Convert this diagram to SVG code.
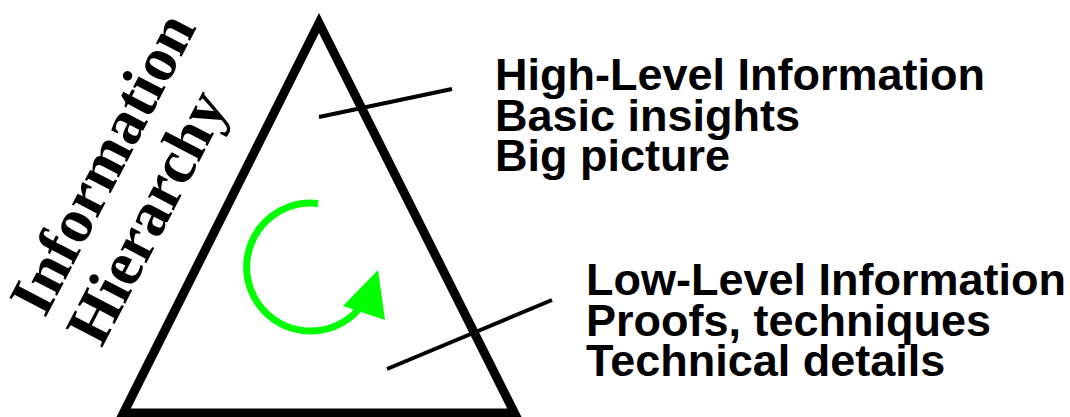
<svg xmlns="http://www.w3.org/2000/svg" width="1070" height="417" viewBox="0 0 1070 417">
<style>
.lbl{font-family:"Liberation Sans",Arial,sans-serif;font-weight:bold;font-size:45px;fill:#000}
.title{font-family:"Liberation Serif","Times New Roman",serif;font-weight:bold;font-size:63px;fill:#000}
.lead{stroke:#000;stroke-width:4;fill:none}
</style>
<rect width="1070" height="417" fill="#fff"/>
<g id="title" transform="translate(45,319) rotate(-62.5)">
<text class="title" x="0" y="0">Information</text>
<text class="title" x="0" y="64">Hierarchy</text>
</g>
<g id="pyramid">
<polygon points="319,23 123.5,413 514.5,413" fill="none" stroke="#000" stroke-width="9" stroke-miterlimit="10"/>
</g>
<g id="cycle">
<path d="M318,203.5 A64,64 0 1 0 359,309" fill="none" stroke="#00ff00" stroke-width="7"/>
<polygon points="343,306 378,270 385,320" fill="#00ff00"/>
</g>
<g id="connectors">
<line class="lead" x1="319" y1="117" x2="452" y2="89"/>
<line class="lead" x1="387" y1="369" x2="552" y2="300"/>
</g>
<g id="high">
<text class="lbl" x="495" y="90">High-Level Information</text>
<text class="lbl" x="495" y="130.5">Basic insights</text>
<text class="lbl" x="495" y="170.5">Big picture</text>
</g>
<g id="low">
<text class="lbl" x="586" y="295">Low-Level Information</text>
<text class="lbl" x="586" y="335.5">Proofs, techniques</text>
<text class="lbl" x="586" y="375.5">Technical details</text>
</g>
</svg>
